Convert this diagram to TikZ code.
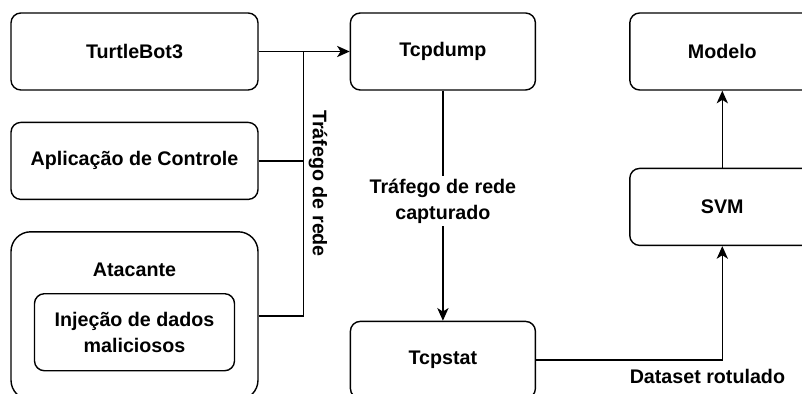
\documentclass[tikz,border=0pt]{standalone}
\usepackage{fontspec}
\setmainfont{Liberation Sans}
\usepackage{tikz}
\usetikzlibrary{calc,positioning,arrows.meta}

\begin{document}
\begin{tikzpicture}[
    every node/.style={font=\fontsize{14}{18.5}\selectfont\bfseries},
    nd/.style={rectangle, rounded corners=7pt, draw=black, line width=1pt,
               minimum width=4.625cm, minimum height=1.925cm,
               align=center, fill=white},
    wide/.style={nd, minimum width=6.175cm},
    grp/.style={rectangle, rounded corners=14pt, draw=black, line width=1pt,
                minimum width=6.175cm, minimum height=4.2cm},
    lbl/.style={align=center, fill=white, inner sep=2pt},
    ln/.style={line width=1pt},
    arr/.style={ln, -{Stealth[length=9pt, width=8pt, inset=2.5pt]}}
]
\useasboundingbox (0,0) rectangle (20.05,-9.85);

% sources
\node[wide] at (3.3625,-1.2875)   (tb)  {TurtleBot3};
\node[wide, below=0.775cm of tb]  (app) {Aplicação de Controle};
\node[grp, below=0.775cm of app]  (atk) {};
\node at ($(atk.north)+(0,-0.975)$) (atklbl) {Atacante};
\node[nd, minimum width=5cm] at ($(atk.center)+(0,-0.41)$) (inj) {Injeção de dados\\maliciosos};

% pipeline
\node[nd, right=2.275cm of tb]       (dump)   {Tcpdump};
\node[nd, below=5.75cm of dump]      (stat)   {Tcpstat};
\node[nd, right=2.325cm of dump]     (modelo) {Modelo};
\node[nd, below=1.925cm of modelo]   (svm)    {SVM};

% network traffic bus
\coordinate[right=1.125cm of tb.east] (bus);
\draw[ln] (atk.east) -| node[pos=0.75, rotate=-90, anchor=south, inner sep=3pt]{Tráfego de rede} (bus);
\draw[ln] (app.east) -- (app.east -| bus);
\draw[arr] (tb.east) -- (dump.west);

\draw[arr] (dump) -- node[lbl, pos=0.48]{Tráfego de rede\\capturado} (stat);
\draw[arr] (stat.east) -| node[pos=0.46, below=3pt]{Dataset rotulado} (svm.south);
\draw[arr] (svm) -- (modelo);
\end{tikzpicture}
\end{document}
